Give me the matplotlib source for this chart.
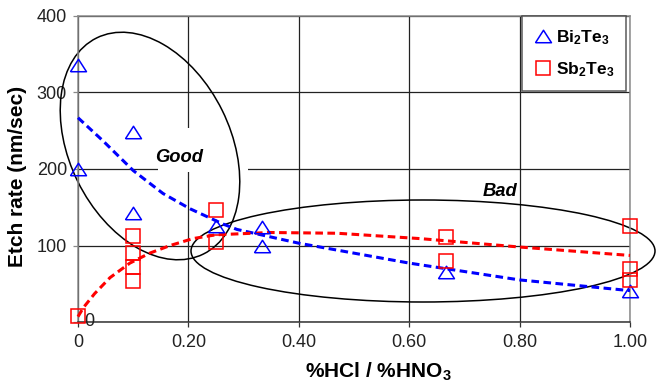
import matplotlib
matplotlib.use("Agg")
import matplotlib.pyplot as plt
from matplotlib.patches import Ellipse, Rectangle
from matplotlib.transforms import IdentityTransform
from matplotlib.lines import Line2D

plt.rcParams['font.family'] = ['Liberation Sans', 'DejaVu Sans']
plt.rcParams['mathtext.fontset'] = 'custom'
plt.rcParams['mathtext.rm'] = 'Liberation Sans'
plt.rcParams['mathtext.bf'] = 'Liberation Sans:bold'
plt.rcParams['mathtext.it'] = 'Liberation Sans:italic'
plt.rcParams['lines.scale_dashes'] = False

# measured etch rates (nm/sec) vs HCl/HNO3 ratio
bi_x = [0, 0, 0.1, 0.1, 0.25, 0.333, 0.333, 0.667, 1.0]
bi_y = [336, 200, 248, 142, 125, 124, 100, 66, 41]
sb_x = [0, 0.1, 0.1, 0.1, 0.1, 0.25, 0.25, 0.667, 0.667, 1.0, 1.0, 1.0]
sb_y = [8, 113, 90, 72, 54, 146, 104, 111, 80, 125, 69, 55]

# trend lines
bi_fit_x = [0, 0.045, 0.1, 0.154, 0.203, 0.263, 0.288, 0.4, 0.6, 0.8, 1.0]
bi_fit_y = [267, 237, 198, 168, 148, 128, 121, 103, 77, 55, 41]
sb_fit_x = [0, 0.01, 0.03, 0.058, 0.094, 0.13, 0.167, 0.208, 0.25, 0.348, 0.47, 0.62, 0.8, 1.0]
sb_fit_y = [7, 19, 37, 58, 77, 90, 100, 109, 114, 117, 116, 109, 98, 87]

x_ticks = [0, 0.2, 0.4, 0.6, 0.8, 1.0]
x_labels = ['0', '0.20', '0.40', '0.60', '0.80', '1.00']
y_ticks = [0, 100, 200, 300, 400]
y_labels = ['', '100', '200', '300', '400']

W, H = 656, 386
fig = plt.figure(figsize=(W / 100, H / 100), dpi=100)
ax = fig.add_axes([78 / W, 1 - 322 / H, 552 / W, 306 / H])

ax.set_xlim(0, 1.0)
ax.set_ylim(0, 400)
ax.set_xticks(x_ticks)
ax.set_xticklabels(x_labels)
ax.set_yticks(y_ticks)
ax.set_yticklabels(y_labels)
ax.set_axisbelow(True)
ax.grid(True, color='#222222', linewidth=0.9)

for side in ['left', 'top', 'right']:
    ax.spines[side].set_color('#8a8a8a')
    ax.spines[side].set_linewidth(1.1)
ax.spines['bottom'].set_color('#333333')
ax.spines['bottom'].set_linewidth(1.1)

ax.tick_params(axis='y', direction='out', length=3.6, width=0.9, color='#888888',
               pad=4.3, labelsize=13, labelcolor='#222222')
ax.tick_params(axis='x', direction='out', length=3.6, width=0.9, color='#333333',
               pad=5, labelsize=13, labelcolor='#222222')

# misplaced zero label of the original
fig.text(84 / W, 1 - 321 / H, '0', ha='left', va='center', fontsize=13, color='#222222')

# axis titles
fig.text(18 / W, 1 - 176 / H, 'Etch rate (nm/sec)', rotation=90, ha='center', va='center',
         fontsize=15, fontweight='bold')
fig.text(378 / W, 1 - 372 / H, r'$\mathbf{\%HCl\ /\ \%HNO_3}$', ha='center', va='center',
         fontsize=15)

# white box behind "Good"
ax.add_artist(Rectangle((158, H - 172), 90, 44, transform=IdentityTransform(),
                        facecolor='white', edgecolor='none', zorder=1))

# good / bad regions
ax.add_artist(Ellipse((150, H - 146), 241, 161, angle=-63.7, transform=IdentityTransform(),
                      fill=False, edgecolor='black', linewidth=1.1, zorder=2, clip_on=False))
ax.add_artist(Ellipse((423, H - 251), 464, 102, angle=0, transform=IdentityTransform(),
                      fill=False, edgecolor='black', linewidth=1.1, zorder=2, clip_on=False))

fig.text(179 / W, 1 - 158 / H, 'Good', ha='center', va='center', fontsize=13.2,
         fontweight='bold', fontstyle='italic', zorder=5)
fig.text(500 / W, 1 - 191 / H, 'Bad', ha='center', va='center', fontsize=13.2,
         fontweight='bold', fontstyle='italic', zorder=5)

# trend lines
ax.plot(bi_fit_x, bi_fit_y, color='#0000ff', linewidth=2.2, dashes=(5.5, 3.2), zorder=3,
        clip_on=False)
ax.plot(sb_fit_x, sb_fit_y, color='#ff0000', linewidth=2.2, dashes=(5.5, 3.2), zorder=3,
        clip_on=False)

tri = [(-1, -0.78), (1, -0.78), (0, 0.78), (-1, -0.78)]
ax.plot(bi_x, bi_y, linestyle='none', marker=tri, markersize=11.5, markerfacecolor='none',
        markeredgecolor='#0000ff', markeredgewidth=1.1, zorder=4, clip_on=False)
ax.plot(sb_x, sb_y, linestyle='none', marker='s', markersize=9.4, markerfacecolor='none',
        markeredgecolor='#ff0000', markeredgewidth=1.1, zorder=4, clip_on=False)

handles = [
    Line2D([], [], linestyle='none', marker=tri, markersize=11.5, markerfacecolor='none',
           markeredgecolor='#0000ff', markeredgewidth=1.1),
    Line2D([], [], linestyle='none', marker='s', markersize=9.4, markerfacecolor='none',
           markeredgecolor='#ff0000', markeredgewidth=1.1),
]
leg = ax.legend(handles, [r'$\mathbf{Bi_2Te_3}$', r'$\mathbf{Sb_2Te_3}$'],
                loc='upper right', bbox_to_anchor=(626 / W, 1 - 16 / H),
                bbox_transform=fig.transFigure, borderaxespad=0, fontsize=12.5,
                frameon=True, fancybox=False, handlelength=1.0, handletextpad=0.25,
                borderpad=0.7, labelspacing=0.75)
leg.get_frame().set_edgecolor('#333333')
leg.get_frame().set_linewidth(1.1)
leg.set_zorder(6)

fig.savefig('out.png', dpi=100)
